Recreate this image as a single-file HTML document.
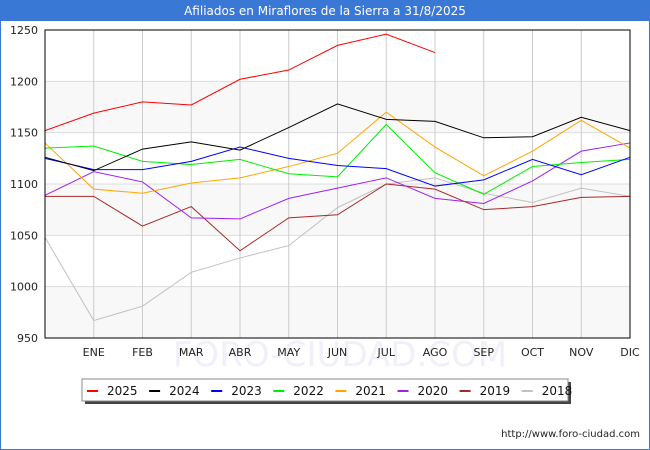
<!DOCTYPE html>
<html><head><meta charset="utf-8"><style>
html,body{margin:0;padding:0;background:#fff}
#wrap{position:relative;width:648px;height:448px;border:1px solid #3a78d6;font-family:"DejaVu Sans","Liberation Sans",sans-serif}
#title{position:absolute;left:0;top:0;width:648px;height:20px;background:#3a78d6;color:#fff;font-size:12px;line-height:20px;text-align:center}
svg{position:absolute;left:-1px;top:-1px}
</style></head><body>
<div id="wrap">
<div id="title">Afiliados en Miraflores de la Sierra a 31/8/2025</div>
<svg id="chart" width="650" height="450"></svg>
</div>
<script>
const months=["","ENE","FEB","MAR","ABR","MAY","JUN","JUL","AGO","SEP","OCT","NOV","DIC"];
const yTicks=[950,1000,1050,1100,1150,1200,1250];
const years=["2025","2024","2023","2022","2021","2020","2019","2018"];
const colors=["#ff0000","#000000","#0000ff","#00ee00","#ffa500","#a020f0","#a52a2a","#c0c0c0"];
const s2025=[1152,1169,1180,1177,1202,1211,1235,1246,1228];
const s2024=[1126,1113,1134,1141,1133,1155,1178,1163,1161,1145,1146,1165,1152];
const s2023=[1125,1114,1114,1122,1136,1125,1118,1115,1098,1104,1124,1109,1126];
const s2022=[1135,1137,1122,1119,1124,1110,1107,1158,1111,1090,1117,1121,1124];
const s2021=[1140,1095,1091,1101,1106,1117,1130,1170,1136,1108,1132,1162,1135];
const s2020=[1089,1112,1102,1067,1066,1086,1096,1106,1086,1081,1103,1132,1140];
const s2019=[1088,1088,1059,1078,1035,1067,1070,1100,1095,1075,1078,1087,1088];
const s2018=[1048,967,981,1014,1028,1040,1077,1100,1106,1091,1082,1096,1088];
const series=[s2025,s2024,s2023,s2022,s2021,s2020,s2019,s2018];
const X0=45,X1=630,Y0=30,Y1=338;
const xs=i=>X0+i*(X1-X0)/12;
const ys=v=>Y1-(v-950)*(Y1-Y0)/300;
const svg=document.getElementById('chart');
const NS="http://www.w3.org/2000/svg";
function mk(t,a){const e=document.createElementNS(NS,t);for(const k in a)e.setAttribute(k,a[k]);svg.appendChild(e);return e;}
const wm=mk('text',{x:340,y:366,'text-anchor':'middle','font-size':34,fill:'#f0f0fa'});wm.textContent='FORO-CIUDAD.COM';


for(let i=0;i<yTicks.length-1;i++){if(i%2==0){const r=mk('rect',{x:X0,y:ys(yTicks[i+1]),width:X1-X0,height:ys(yTicks[i])-ys(yTicks[i+1]),fill:'#f8f8f8'});

}}
yTicks.forEach(v=>{const l=mk('line',{x1:X0,x2:X1,y1:ys(v),y2:ys(v),stroke:'#dddddd','stroke-width':1});


const t=mk('text',{x:38,y:ys(v)+4,'text-anchor':'end','font-size':11,fill:'#222'});t.textContent=v;

});
months.forEach((m,i)=>{if(i>0){const l=mk('line',{x1:xs(i),x2:xs(i),y1:Y0,y2:Y1,stroke:'#cccccc','stroke-width':1});

}
const t=mk('text',{x:xs(i),y:356,'text-anchor':'middle','font-size':11,fill:'#222'});t.textContent=m;

});
for(let k=series.length-1;k>=0;k--){const d=series[k].map((v,i)=>(i?'L':'M')+xs(i)+','+ys(v)).join('');
const p=mk('path',{d:d,fill:'none',stroke:colors[k],'stroke-width':1});

}
const b=mk('rect',{x:X0,y:Y0,width:X1-X0,height:Y1-Y0,fill:'none',stroke:'#000','stroke-width':1});


const sh=mk('rect',{x:85,y:382,width:486,height:22,fill:'#444'});


const lg=mk('rect',{x:82,y:379,width:486,height:22,fill:'#fff',stroke:'#888'});


years.forEach((y,k)=>{const x=87+k*62.1;
const m=mk('line',{x1:x,x2:x+11,y1:391,y2:391,stroke:colors[k],'stroke-width':2});


const t=mk('text',{x:x+20,y:395,'font-size':12,fill:'#111'});t.textContent=y;

});
const u=mk('text',{x:640,y:437,'text-anchor':'end','font-size':10,fill:'#222'});u.textContent='http://www.foro-ciudad.com';


</script>
</body></html>
